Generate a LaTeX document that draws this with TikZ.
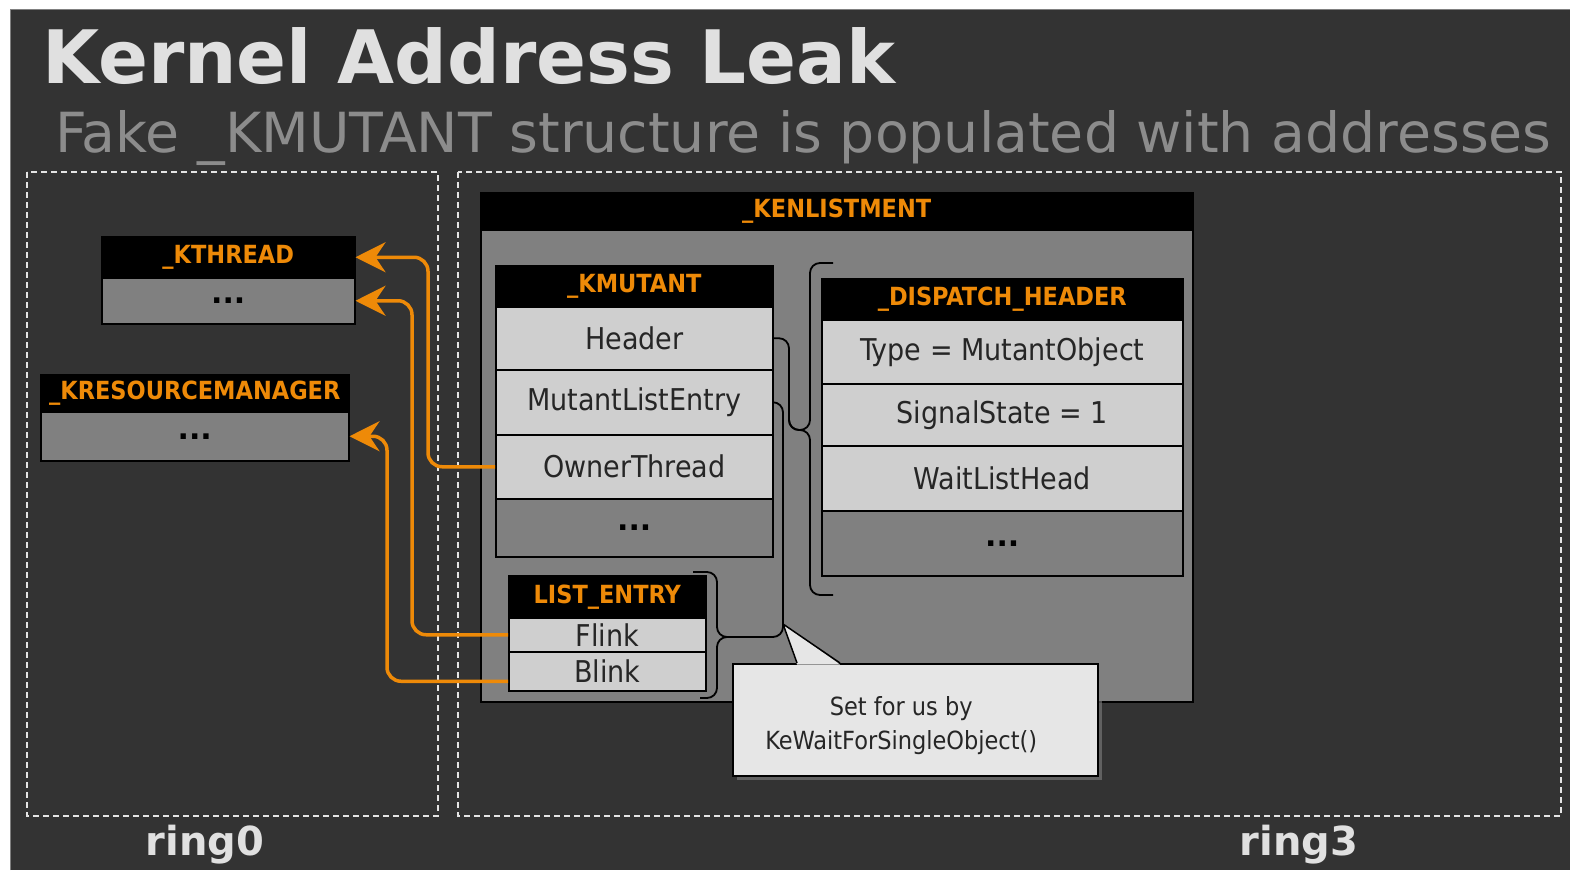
\documentclass[tikz,border=0pt]{standalone}
\usepackage{fontspec}
\setmainfont{DejaVu Sans}
\newfontfamily\condfont{DejaVu Sans Condensed}
\usepackage{tikz}
\definecolor{BgDark}{RGB}{51,51,51}
\definecolor{FieldGray}{RGB}{207,207,207}
\definecolor{MidGray}{RGB}{128,128,128}
\definecolor{NoteGray}{RGB}{230,230,230}
\definecolor{KOrange}{RGB}{238,138,8}
\definecolor{TitleGray}{RGB}{224,224,224}
\definecolor{SubGray}{RGB}{140,140,140}
\usetikzlibrary{
	positioning,
	arrows.meta,
	shadows
}
\newcommand{\fsize}[1]{\fontsize{#1}{#1}\selectfont}

\begin{document}
\begin{tikzpicture}[
		x=1pt, y=-1pt,
		framed/.style={draw=black, line width=1.5pt},
		hdrbox/.style={framed, fill=black, text=KOrange, font=\condfont\bfseries\fsize{25}, inner sep=0pt, anchor=north west},
		fieldbox/.style={framed, fill=FieldGray, text=black!85, font=\condfont\fsize{30}, inner sep=0pt, anchor=north west},
		morebox/.style={framed, fill=MidGray, font=\bfseries\fsize{30}, inner sep=0pt, anchor=north west},
		ringbox/.style={draw=white!90!black, dash pattern=on 6pt off 4pt, line width=1.5pt},
		ringlabel/.style={text=TitleGray, font=\bfseries\fsize{40}, anchor=base},
		braceline/.style={draw=black, line width=1.8pt, rounded corners=10pt},
		ptrline/.style={draw=KOrange, line width=3.5pt, rounded corners=14pt, -{Stealth[length=30pt, width=30pt, inset=10pt]}},
		notebox/.style={framed, fill=NoteGray, inner sep=0pt, anchor=north west, drop shadow={opacity=0.6, shadow xshift=4pt, shadow yshift=-4pt}}
	]
	\useasboundingbox (0,0) rectangle (1570,870);
	\fill[white] (0,0) rectangle (1570,870);
	\fill[BgDark] (10,9) rectangle (1570,870);
	\draw[gray, line width=1pt] (10.5,870) -- (10.5,9.5) -- (1570,9.5);

	% headings
	\node[anchor=base west, inner sep=0pt, text=TitleGray, font=\bfseries\fsize{73.7}] (title) at (42,83) {Kernel Address Leak};
	\node[anchor=base west, inner sep=0pt, text=SubGray, font=\fsize{55.3}] (subtitle) at (55,152) {Fake \_KMUTANT structure is populated with addresses};

	% privilege rings
	\draw[ringbox] (27,172) rectangle (438,816);
	\draw[ringbox] (458,172) rectangle (1561,816);
	\node[ringlabel] (ring0) at (205,855) {ring0};
	\node[ringlabel] (ring3) at (1299,855) {ring3};

	% kernel objects
	\node[hdrbox, minimum width=253, minimum height=41] (kth) at (101,236) {\_KTHREAD};
	\node[morebox, minimum width=253, minimum height=46] (kthb) at (101,277) {...};
	\node[hdrbox, minimum width=308, minimum height=37] (krm) at (40,374) {\_KRESOURCEMANAGER};
	\node[morebox, minimum width=308, minimum height=49] (krmb) at (40,411) {...};

	% fake enlistment
	\node[morebox, minimum width=712, minimum height=472] (kenb) at (480,229) {};
	\node[hdrbox, minimum width=712, minimum height=37] (ken) at (480,192) {\_KENLISTMENT};

	\node[hdrbox, minimum width=277, minimum height=41] (km) at (495,265) {\_KMUTANT};
	\node[fieldbox, minimum width=277, minimum height=63] (hdrf) at (495,306) {Header};
	\node[fieldbox, minimum width=277, minimum height=65] (mle) at (495,369) {MutantListEntry};
	\node[fieldbox, minimum width=277, minimum height=64] (own) at (495,434) {OwnerThread};
	\node[morebox, minimum width=277, minimum height=58] (kmb) at (495,498) {...};

	\node[hdrbox, minimum width=361, minimum height=41] (dh) at (821,278) {\_DISPATCH\_HEADER};
	\node[fieldbox, minimum width=361, minimum height=64] (typ) at (821,319) {Type = MutantObject};
	\node[fieldbox, minimum width=361, minimum height=62] (sig) at (821,383) {SignalState = 1};
	\node[fieldbox, minimum width=361, minimum height=65] (wlh) at (821,445) {WaitListHead};
	\node[morebox, minimum width=361, minimum height=65] (dhb) at (821,510) {...};

	\node[hdrbox, minimum width=197, minimum height=42] (le) at (508,575) {LIST\_ENTRY};
	\node[fieldbox, minimum width=197, minimum height=34] (flink) at (508,617) {Flink};
	\node[fieldbox, minimum width=197, minimum height=39] (blink) at (508,651) {Blink};

	% braces
	\draw[braceline] (hdrf.east) -| (789,430) -- (810,430) -- (810,263) -- (833,263);
	\draw[braceline] (789,418) -- (789,430) -- (810,430) -- (810,595) -- (833,595);
	\draw[braceline] (mle.east) -| (783,637) -- (717,637) -- (717,572) -- (693,572);
	\draw[braceline] (731,637) -- (717,637) -- (717,698) -- (700,698);

	% callout
	\coordinate (tip) at (783,624);
	\node[notebox, minimum width=365, minimum height=112] (note) at (732,663) {};
	\fill[NoteGray] ([xshift=65pt, yshift=-1.5pt]note.north west) -- (tip) -- ([xshift=108pt, yshift=-1.5pt]note.north west) -- cycle;
	\draw[black, line width=1.5pt, line join=round] ([xshift=65pt]note.north west) -- (tip) -- ([xshift=108pt]note.north west);
	\node[align=center, text=black!85, font=\condfont\fontsize{25}{34}\selectfont] (notetxt) at ([xshift=-14pt, yshift=-6pt]note.center) {Set for us by\\KeWaitForSingleObject()};

	% leaked pointers
	\draw[ptrline] (own.west) -- ++(-67,0) |- (kth.east);
	\draw[ptrline] (flink.west) -- ++(-96,0) |- (kthb.east);
	\draw[ptrline] ([yshift=-10pt]blink.west) -- ++(-121,0) |- (krmb.east);
\end{tikzpicture}
\end{document}
